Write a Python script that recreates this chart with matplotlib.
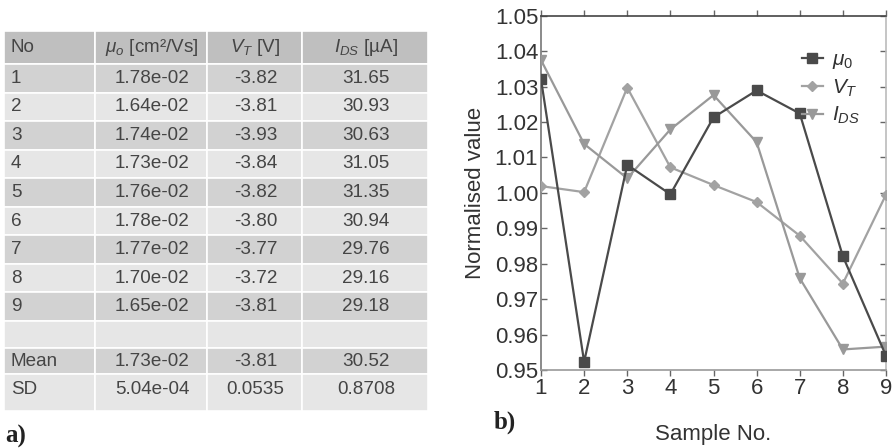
import matplotlib
matplotlib.use("Agg")
import matplotlib.pyplot as plt
from matplotlib.patches import Rectangle

plt.rcParams['font.family'] = ['Liberation Sans', 'DejaVu Sans']
plt.rcParams['mathtext.fontset'] = 'custom'
plt.rcParams['mathtext.rm'] = 'Liberation Sans'
plt.rcParams['mathtext.it'] = 'Liberation Sans:italic'
plt.rcParams['mathtext.bf'] = 'Liberation Sans:bold'

# ---- table data ----
col_headers = ['No', r'$\mu_o$ [cm²/Vs]', r'$V_T$ [V]', r'$I_{DS}$ [µA]']
row_no = ['1', '2', '3', '4', '5', '6', '7', '8', '9', '', 'Mean', 'SD']
mu0_vals = ['1.78e-02', '1.64e-02', '1.74e-02', '1.73e-02', '1.76e-02', '1.78e-02',
            '1.77e-02', '1.70e-02', '1.65e-02', '', '1.73e-02', '5.04e-04']
vt_vals = ['-3.82', '-3.81', '-3.93', '-3.84', '-3.82', '-3.80',
           '-3.77', '-3.72', '-3.81', '', '-3.81', '0.0535']
ids_vals = ['31.65', '30.93', '30.63', '31.05', '31.35', '30.94',
            '29.76', '29.16', '29.18', '', '30.52', '0.8708']

# ---- normalised values per sample ----
samples = [1, 2, 3, 4, 5, 6, 7, 8, 9]
mu0_norm = [1.0321, 0.9523, 1.0079, 0.9996, 1.0213, 1.0289, 1.0224, 0.9821, 0.9540]
vt_norm = [1.0019, 1.0002, 1.0297, 1.0072, 1.0022, 0.9974, 0.9879, 0.9744, 0.9995]
ids_norm = [1.0375, 1.0138, 1.0041, 1.0179, 1.0276, 1.0143, 0.9759, 0.9558, 0.9566]

W, H = 892, 448
fig = plt.figure(figsize=(W / 100, H / 100), dpi=100)

# ---- table panel (pixel coordinates) ----
tax = fig.add_axes([0, 0, 1, 1])
tax.set_xlim(0, W)
tax.set_ylim(H, 0)
tax.axis('off')

col_edges = [4, 95, 207, 302, 428]
row_edges = [31, 64] + [64 + 28.56 * (i + 1) for i in range(9)] + [348, 374, 411]
header_color = '#bfbfbf'
dark_row = '#d2d2d2'
light_row = '#e6e6e6'
text_color = '#454545'
fs_table = 13.6

columns = [row_no, mu0_vals, vt_vals, ids_vals]
n_rows = len(row_no)
for r in range(n_rows + 1):
    y0, y1 = row_edges[r], row_edges[r + 1]
    if r == 0:
        fc = header_color
    else:
        fc = dark_row if (r % 2 == 1) else light_row
    for c in range(4):
        x0, x1 = col_edges[c], col_edges[c + 1]
        tax.add_patch(Rectangle((x0, y0), x1 - x0, y1 - y0, facecolor=fc,
                                edgecolor='white', linewidth=1.2))
        if r == 0:
            txt = col_headers[c]
        else:
            txt = columns[c][r - 1]
        if c == 0:
            tx, ha = x0 + 7, 'left'
        else:
            tx, ha = (x0 + x1) / 2 + 1, 'center'
        ty = (y0 + y1) / 2 if r < n_rows else y0 + 15
        tax.text(tx, ty, txt, ha=ha, va='center', fontsize=fs_table, color=text_color)

tax.text(5, 436, 'a)', fontsize=18, family='Liberation Serif', fontweight='bold',
         color='#222222', va='center', ha='left')
tax.text(494, 422, 'b)', fontsize=18, family='Liberation Serif', fontweight='bold',
         color='#222222', va='center', ha='left')

# ---- line chart panel ----
left, right, top, bottom = 541, 886, 15.7, 370
ax = fig.add_axes([left / W, 1 - bottom / H, (right - left) / W, (bottom - top) / H])
ax.plot(samples, mu0_norm, color='#4a4a4a', lw=1.6, marker='s', ms=7,
        label=r'$\mu_{\mathrm{0}}$', zorder=4)
ax.plot(samples, vt_norm, color='#a2a2a2', lw=1.6, marker='D', ms=5,
        label=r'$V_T$', zorder=3)
ax.plot(samples, ids_norm, color='#999999', lw=1.6, marker='v', ms=7,
        label=r'$I_{DS}$', zorder=3)

ax.set_xlim(1, 9)
ax.set_ylim(0.95, 1.05)
ax.set_xticks(samples)
ax.set_yticks([0.95, 0.96, 0.97, 0.98, 0.99, 1.00, 1.01, 1.02, 1.03, 1.04, 1.05])
ax.set_yticklabels(['%.2f' % v for v in ax.get_yticks()])
ax.tick_params(axis='both', direction='out', length=4, width=1, color='#666666',
               labelsize=16, labelcolor='#333333', pad=2,
               top=True, right=True, labeltop=False, labelright=False)
ax.tick_params(axis='y', which='both', right=True, direction='in')
ax.spines['left'].set_color('#777777')
ax.spines['bottom'].set_color('#999999')
ax.spines['top'].set_color('#444444')
ax.spines['right'].set_color('#bbbbbb')
for s in ax.spines.values():
    s.set_linewidth(1.2)
ax.set_ylabel('Normalised value', fontsize=16, color='#333333', labelpad=6)
ax.set_xlabel('Sample No.', fontsize=16, color='#333333', labelpad=18)

leg = ax.legend(loc='upper left', bbox_to_anchor=((802 - left) / (right - left),
                                                  (bottom - 50) / (bottom - top)),
                frameon=False, fontsize=15, handlelength=1.0, handletextpad=0.45,
                labelspacing=0.3, borderpad=0, borderaxespad=0)
for t in leg.get_texts():
    t.set_color('#333333')

fig.savefig('out.png', dpi=100, facecolor='white')
